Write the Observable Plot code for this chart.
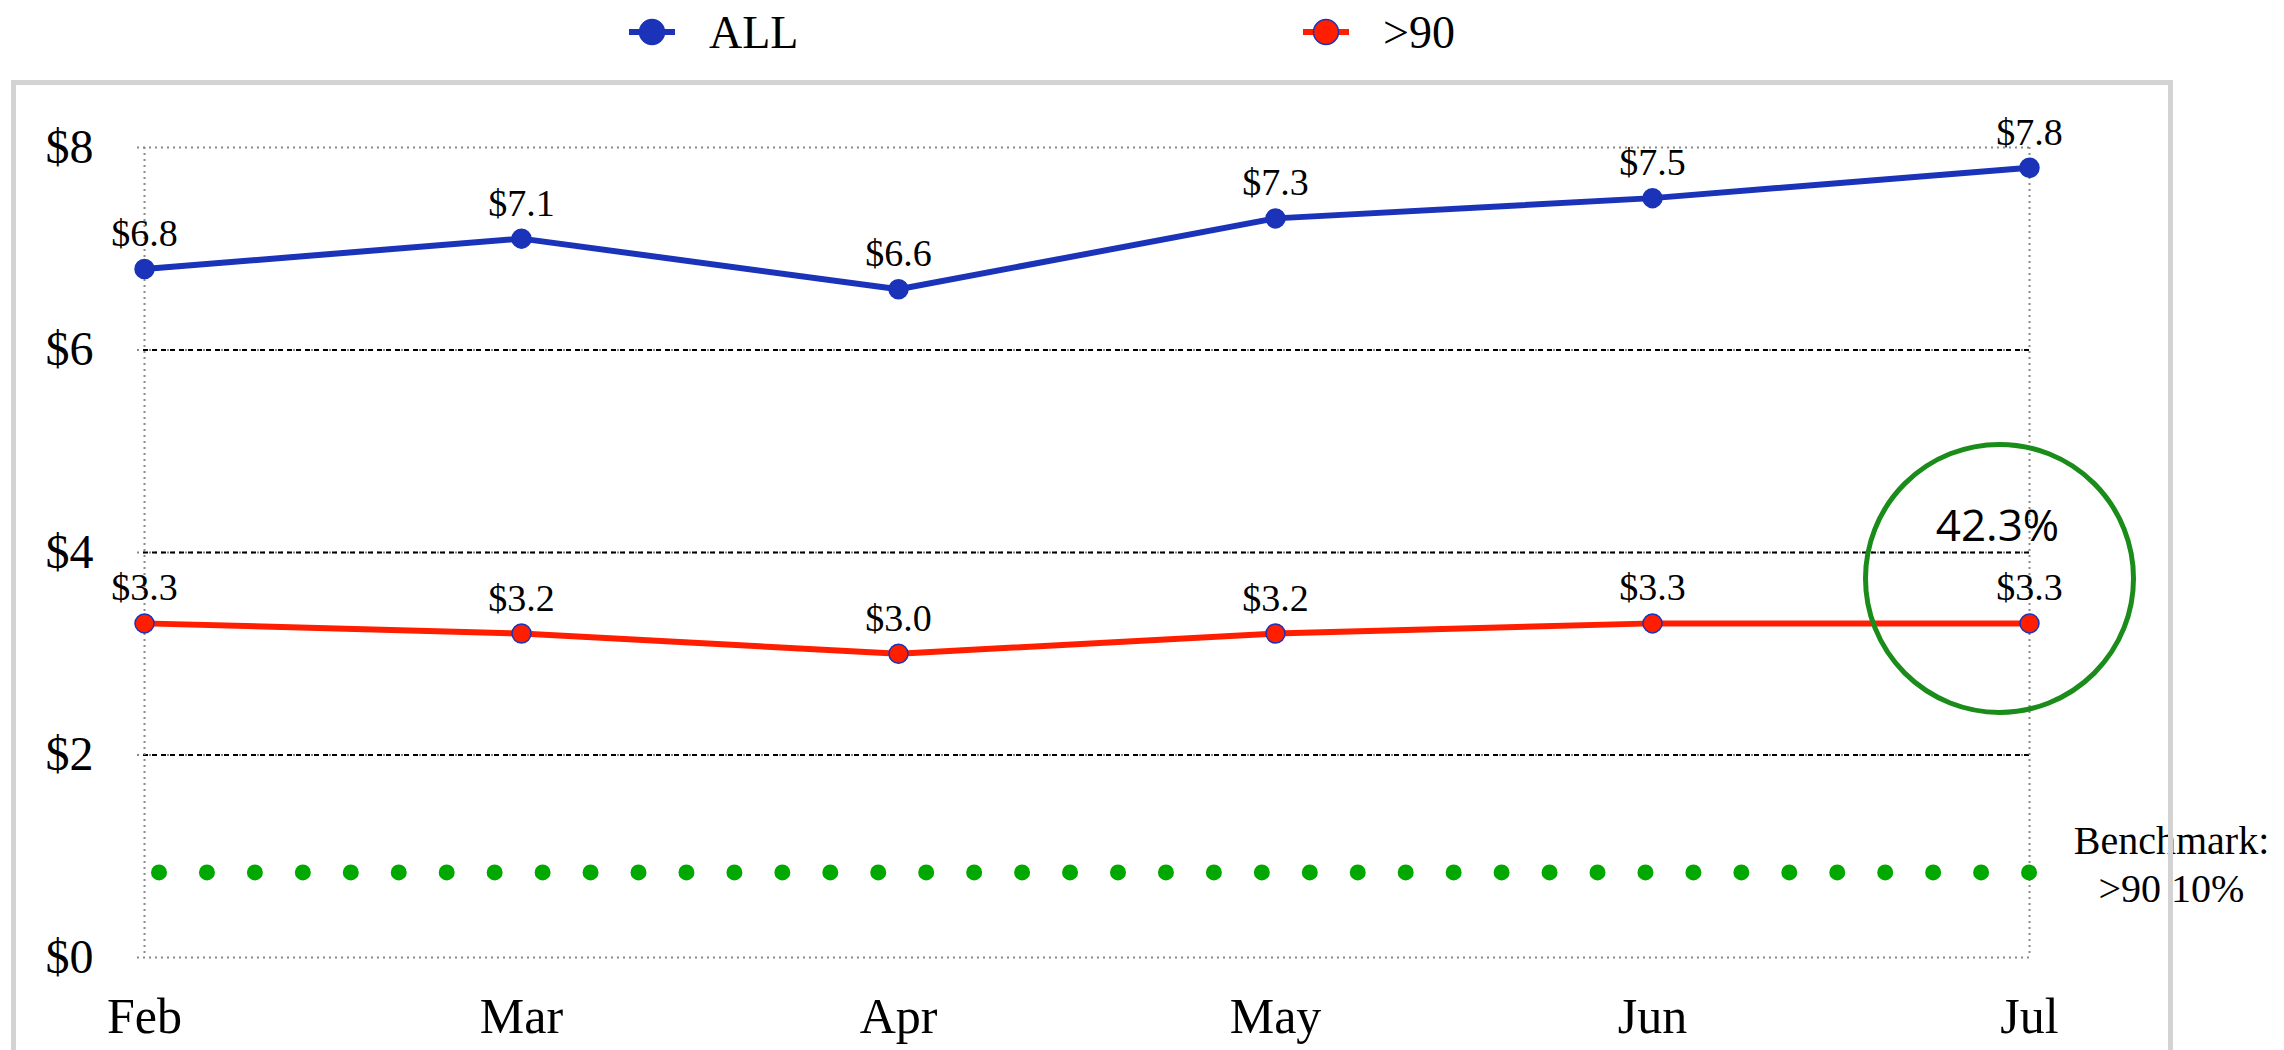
<!DOCTYPE html>
<html>
<head>
<meta charset="utf-8">
<script src="https://cdn.jsdelivr.net/npm/d3@7"></script>
<script src="https://cdn.jsdelivr.net/npm/@observablehq/plot@0.6"></script>
<style>
  html, body { margin: 0; padding: 0; background: white; }
  body { width: 2284px; height: 1050px; overflow: hidden; position: relative; font-family: "Liberation Serif", serif; }
  .legend-item { position: absolute; top: 6px; height: 52px; display: flex; align-items: center; font-size: 46px; color: #000; }
  .legend-item svg { margin-right: 34px; overflow: visible; }
  #frame { position: absolute; left: 11px; top: 80px; width: 2162px; height: 1100px; border: 5px solid #d3d3d3; box-sizing: border-box; pointer-events: none; }
  #chart { position: absolute; left: 0; top: 80px; }
</style>
</head>
<body>
<div id="legend"></div>
<div id="chart"></div>
<div id="frame"></div>
<script>
// ---- data ----
const months = ["Feb", "Mar", "Apr", "May", "Jun", "Jul"];
const seriesNames = ["ALL", ">90"];
const allValues = [6.8, 7.1, 6.6, 7.3, 7.5, 7.8];
const over90Values = [3.3, 3.2, 3.0, 3.2, 3.3, 3.3];
const yTicks = [0, 2, 4, 6, 8];
const benchmark = 0.84;
const benchmarkLabel = ["Benchmark:", ">90 10%"];
const seriesColors = ["#1a33b8", "#ff1e00"];
const markerStroke = "#1a33b8";

const rows = [];
months.forEach((m, i) => rows.push({month: m, series: seriesNames[0], value: allValues[i]}));
months.forEach((m, i) => rows.push({month: m, series: seriesNames[1], value: over90Values[i]}));

const lastMonth = months[months.length - 1];
const lastAll = allValues[allValues.length - 1];
const lastOver = over90Values[over90Values.length - 1];
const highlight = [{month: lastMonth, value: lastOver, ratio: lastOver / lastAll}];

// ---- legend ----
const legendLefts = [629, 1303];
const legend = document.getElementById("legend");
seriesNames.forEach((name, i) => {
  const item = document.createElement("div");
  item.className = "legend-item";
  item.style.left = legendLefts[i] + "px";
  item.innerHTML = `<svg width="46" height="30" viewBox="0 0 46 30">
      <line x1="0" x2="46" y1="15" y2="15" stroke="${seriesColors[i]}" stroke-width="6"/>
      <circle cx="23" cy="15" r="12.5" fill="${seriesColors[i]}" stroke="${markerStroke}" stroke-width="1.5"/>
    </svg><span></span>`;
  item.querySelector("span").textContent = name;
  legend.appendChild(item);
});

// ---- chart ----
const serif = "Liberation Serif, serif";
const dotted = {stroke: "#8a8a8a", strokeWidth: 2, strokeDasharray: "2,4"};

const chart = Plot.plot({
  width: 2284,
  height: 970,
  marginLeft: 143,
  marginRight: 254,
  marginTop: 67,
  marginBottom: 93,
  style: {background: "transparent", overflow: "visible"},
  x: {type: "point", domain: months, padding: 0},
  y: {domain: [0, 8]},
  color: {domain: seriesNames, range: seriesColors},
  marks: [
    Plot.ruleY(yTicks, {...dotted, insetLeft: -6}),
    Plot.ruleY(yTicks.filter(d => d > 0 && d < 8), {stroke: "#000", strokeWidth: 2.2, strokeDasharray: "5,4"}),
    Plot.ruleX([months[0], lastMonth], dotted),
    Plot.ruleY([benchmark], {stroke: "#00a800", strokeWidth: 16, strokeLinecap: "round", strokeDasharray: "0,47.95", strokeDashoffset: 31.95}),
    Plot.axisY({ticks: yTicks, tickFormat: d => "$" + d, tickSize: 0, tickPadding: 50, fontSize: 48, fontFamily: serif, label: null}),
    Plot.axisX({tickSize: 0, tickPadding: 40, fontSize: 50, fontFamily: serif, label: null}),
    Plot.line(rows, {x: "month", y: "value", z: "series", stroke: "series", strokeWidth: 6}),
    Plot.dot(rows, {x: "month", y: "value", fill: "series", stroke: markerStroke, strokeWidth: 1.5, r: 9.5}),
    Plot.text(rows, {x: "month", y: "value", text: d => "$" + d.value.toFixed(1), dy: -23, lineAnchor: "bottom", fontSize: 38, fontFamily: serif, fill: "#000"}),
    Plot.dot(highlight, {x: "month", y: "value", r: 134, stroke: "#1a8c1a", strokeWidth: 5, fill: "none", dx: -30, dy: -45}),
    Plot.text(highlight, {x: "month", y: "value", text: d => (d.ratio * 100).toFixed(1) + "%", dx: -32, dy: -96, fontSize: 44, fontFamily: "Open Sans, sans-serif", fill: "#000"}),
    Plot.text([benchmark], {x: () => lastMonth, y: d => d, text: () => benchmarkLabel.join("\n"), dx: 142, dy: -10, fontSize: 40, lineHeight: 1.2, fontFamily: serif, fill: "#000"})
  ]
});
document.getElementById("chart").appendChild(chart);
</script>
</body>
</html>
